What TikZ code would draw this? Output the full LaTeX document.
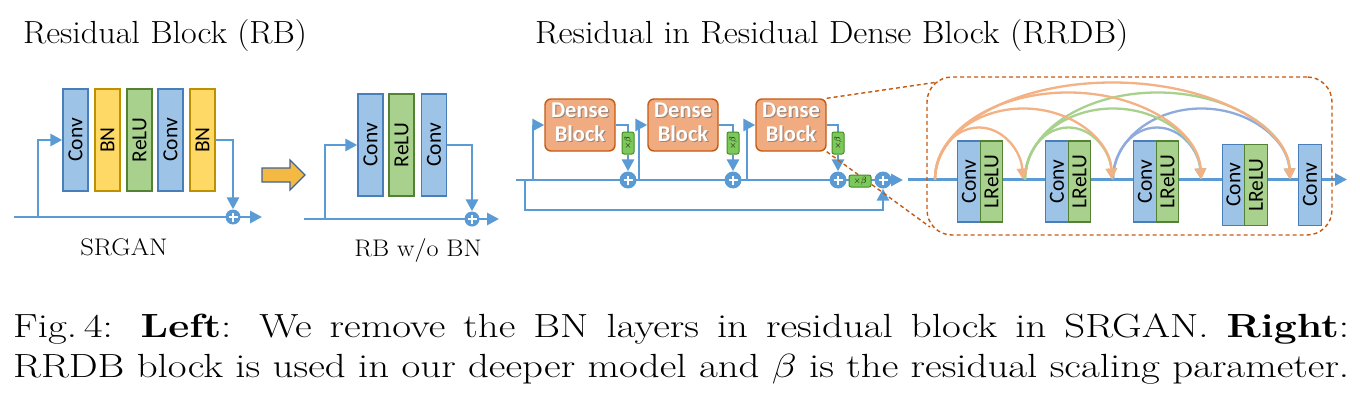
\RequirePackage{fix-cm}
\documentclass[tikz,border=0pt]{standalone}
\usepackage{graphicx}
\usepackage{fontspec}
\newfontfamily\carl{Carlito}
\usetikzlibrary{arrows.meta,backgrounds,calc}
\definecolor{convfill}{RGB}{157,195,230}
\definecolor{convdraw}{RGB}{74,126,187}
\definecolor{bnfill}{RGB}{255,217,102}
\definecolor{bndraw}{RGB}{191,144,0}
\definecolor{relufill}{RGB}{169,209,142}
\definecolor{reludraw}{RGB}{84,130,53}
\definecolor{linecol}{RGB}{91,155,213}
\definecolor{densefill}{RGB}{240,172,128}
\definecolor{densedraw}{RGB}{197,90,17}
\definecolor{dashcol}{RGB}{197,90,17}
\definecolor{betafill}{RGB}{125,200,90}
\definecolor{betadraw}{RGB}{70,140,40}
\definecolor{arrfill}{RGB}{244,185,66}
\definecolor{arrdraw}{RGB}{65,100,150}
\definecolor{arco}{RGB}{244,177,131}
\definecolor{arcg}{RGB}{169,209,142}
\definecolor{arcb}{RGB}{143,170,220}
\definecolor{shadowcol}{RGB}{120,80,60}
\newcommand\dbt{\begin{tabular}{@{}c@{}}Dense\\Block\end{tabular}}
\newcommand\dbtext{\rlap{\kern1.2pt\raisebox{-1.2pt}{\color{shadowcol!70}\dbt}}{\color{white}\dbt}}
\newcommand\capfont{\fontsize{33.5}{40}\selectfont}
\newcommand\captwo{RRDB block is used in our deeper model and $\beta$ is the residual scaling parameter.}
\newcommand\capone{Fig.\,4: \textbf{Left}: We remove the BN layers in residual block in SRGAN. \textbf{Right}:}
\newlength\ltwo
\newsavebox\capbox
% dense connection: colour, source, target, rise
\newcommand\denseArc[4]{\draw[darc,#1] let \p1=(#2), \p2=(#3), \n1={(\x2-\x1)/2} in
  (#2) .. controls +(0,-0.552*#4) and ($(\p1)!0.5!(\p2)+(-0.552*\n1,-#4)$)
  .. ($(\p1)!0.5!(\p2)+(0,-#4)$) .. controls +(0.552*\n1,0) and +(-2,-0.552*#4) .. (#3);}
\tikzset{
  ln/.style={draw=linecol,line width=2.8pt},
  tipb/.style={-{Triangle[length=12pt,width=12pt]}},
  lay/.style={draw,line width=1.4pt,inner sep=0pt,font=\carl\fontsize{21.5}{21.5}\selectfont},
  convbox/.style={lay,draw=convdraw,fill=convfill},
  bnbox/.style={lay,draw=bndraw,fill=bnfill},
  relubox/.style={lay,draw=reludraw,fill=relufill},
  tall/.style={minimum width=25pt,minimum height=102pt},
  short/.style={minimum width=22.5pt,minimum height=81pt},
  plus/.style={circle,fill=linecol,minimum size=#1,inner sep=0pt,
    path picture={\draw[white,line width=1.6pt]
      ($(path picture bounding box.center)+(-4.5,0)$) -- ++(9,0)
      ($(path picture bounding box.center)+(0,-4.5)$) -- ++(0,9);}},
  densebox/.style={draw=densedraw,fill=densefill,line width=1.4pt,rounded corners=6pt,
    minimum width=70pt,minimum height=52pt,inner sep=0pt,
    font=\carl\bfseries\fontsize{22.5}{24}\selectfont},
  betabox/.style={draw=betadraw,fill=betafill,line width=1pt,rounded corners=2pt,
    inner sep=0pt,font=\fontsize{9}{9}\selectfont},
  dsh/.style={draw=dashcol,line width=1.4pt,dash pattern=on 4pt off 3pt},
  ttl/.style={font=\fontsize{32}{32}\selectfont,inner sep=0pt},
  lbl/.style={font=\fontsize{24}{24}\selectfont,inner sep=0pt},
  capt/.style={font=\capfont,inner sep=0pt},
  darc/.style={line width=2.3pt,-{Triangle[length=11pt,width=11pt]}},
  bigarr/.style={fill=arrfill,draw=arrdraw,line width=1.3pt}
}
\begin{document}
\sbox\capbox{\capfont\captwo}%
\setlength\ltwo{\wd\capbox}%
\pgfmathsetmacro\sx{1336/\ltwo}%
\begin{tikzpicture}[x=1pt,y=-1pt]
\useasboundingbox (0,0) rectangle (1360,412);

% titles and caption
\node[ttl,anchor=base west] (t1) at (23,44) {\scalebox{1.065}[1]{Residual Block (RB)}};
\node[ttl,anchor=base west] (t2) at (535,44) {\scalebox{1.078}[1]{Residual in Residual Dense Block (RRDB)}};
\node[capt,anchor=base west] (cap1) at (13,337) {\scalebox{\sx}[1]{\hbox to \ltwo{\capone}}};
\node[capt,anchor=base west] (cap2) at (13,377) {\scalebox{\sx}[1]{\usebox\capbox}};

% ---------- SRGAN residual block ----------
\node[convbox,tall] (a1) at (75.5,140) {\rotatebox{90}{Conv}};
\node[bnbox,tall] (a2) at (107.5,140) {\rotatebox{90}{BN}};
\node[relubox,tall] (a3) at (139.5,140) {\rotatebox{90}{ReLU}};
\node[convbox,tall] (a4) at (170.5,140) {\rotatebox{90}{Conv}};
\node[bnbox,tall] (a5) at (202.5,140) {\rotatebox{90}{BN}};
\node[plus=15pt] (p1) at (233,217) {};
\coordinate (in1) at (14,217);
\coordinate (br1) at (38,217);
\coordinate (out1) at (262,217);
\node[lbl,anchor=base] (l1) at (124,255) {\scalebox{1.11}[1]{SRGAN}};

\draw[bigarr] (262,168) -- (290,168) -- (290,160) -- (305,175) -- (290,190) -- (290,182) -- (262,182) -- cycle;

% ---------- RB w/o BN ----------
\node[convbox,tall] (b1) at (370.5,145) {\rotatebox{90}{Conv}};
\node[relubox,tall] (b2) at (401.5,145) {\rotatebox{90}{ReLU}};
\node[convbox,tall] (b3) at (434,145) {\rotatebox{90}{Conv}};
\node[plus=15pt] (p2) at (472,219) {};
\coordinate (in2) at (304,219);
\coordinate (br2) at (325,219);
\coordinate (out2) at (499,219);
\node[lbl,anchor=base] (l2) at (418,256) {\scalebox{1.09}[1]{RB w/o BN}};

% ---------- RRDB ----------
\node[densebox] (db1) at (580,125) {\dbtext};
\node[densebox] (db2) at (683,125) {\dbtext};
\node[densebox] (db3) at (791,125) {\dbtext};
\node[betabox,minimum width=12pt,minimum height=22pt] (bt1) at (628,143) {\rotatebox{90}{$\times\beta$}};
\node[betabox,minimum width=12pt,minimum height=22pt] (bt2) at (733,143) {\rotatebox{90}{$\times\beta$}};
\node[betabox,minimum width=12pt,minimum height=22pt] (bt3) at (838,143) {\rotatebox{90}{$\times\beta$}};
\node[plus=17pt] (q1) at (628,180) {};
\node[plus=17pt] (q2) at (733,180) {};
\node[plus=17pt] (q3) at (838,180) {};
\node[betabox,minimum width=22pt,minimum height=12pt] (bh) at (860,181) {$\times\beta$};
\node[plus=17pt] (q4) at (883,180) {};
\coordinate (rin) at (516,180);
\coordinate (s0) at (525,180);
\coordinate (sk) at (525,210);
\coordinate (s1) at (533,180);
\coordinate (s2) at (639,180);
\coordinate (s3) at (747,180);
\coordinate (rout) at (903,180);

% zoomed dense block
\node[dsh,rounded corners=25pt,minimum width=405pt,minimum height=158pt] (zb) at (1129.5,156) {};
\coordinate (zt) at (938,82);
\coordinate (zbot) at (930,227);
\coordinate (rr0) at (908,179.5);
\coordinate (rr1) at (1347,179.5);
\node[convbox,short] (e1c) at (969,181.5) {\rotatebox{90}{Conv}};
\node[relubox,short] (e1l) at (991.5,181.5) {\rotatebox{90}{LReLU}};
\node[convbox,short] (e2c) at (1057,181.5) {\rotatebox{90}{Conv}};
\node[relubox,short] (e2l) at (1079.5,181.5) {\rotatebox{90}{LReLU}};
\node[convbox,short] (e3c) at (1145,181.5) {\rotatebox{90}{Conv}};
\node[relubox,short] (e3l) at (1167.5,181.5) {\rotatebox{90}{LReLU}};
\node[convbox,short] (e4c) at (1233.5,185) {\rotatebox{90}{Conv}};
\node[relubox,short] (e4l) at (1256,185) {\rotatebox{90}{LReLU}};
\node[convbox,short] (e5c) at (1310,185) {\rotatebox{90}{Conv}};
\coordinate (src0) at (935,179.5);
\coordinate (src1) at (1025,179.5);
\coordinate (src2) at (1113,179.5);
\coordinate (tg1) at (1023,179.5);
\coordinate (tg2) at (1112,179.5);
\coordinate (tg3) at (1201,179.5);
\coordinate (tg4) at (1290,179.5);

% dense connections
\denseArc{arcb}{src2}{tg3}{52}
\denseArc{arcb}{src2}{tg4}{71}
\denseArc{arcg}{src1}{tg2}{52}
\denseArc{arcg}{src1}{tg3}{71}
\denseArc{arcg}{src1}{tg4}{87}
\denseArc{arco}{src0}{tg1}{52}
\denseArc{arco}{src0}{tg2}{71}
\denseArc{arco}{src0}{tg3}{87}
\denseArc{arco}{src0}{tg4}{97}

\begin{pgfonlayer}{background}
  \fill[white] (0,0) rectangle (1360,412);
  % SRGAN RB
  \draw[ln,tipb] (in1) -- (out1);
  \draw[ln,tipb] (br1) |- (a1.west);
  \draw[ln,tipb] (a5.east) -| (p1.north);
  % RB w/o BN
  \draw[ln,tipb] (in2) -- (out2);
  \draw[ln,tipb] (br2) |- (b1.west);
  \draw[ln,tipb] (b3.east) -| (p2.north);
  % RRDB chain
  \draw[ln,tipb] (rin) -- (rout);
  \draw[ln,tipb] (s0) -- (sk) -| (q4.south);
  \draw[ln,tipb] (s1) |- (db1.west);
  \draw[ln,tipb] (s2) |- (db2.west);
  \draw[ln,tipb] (s3) |- (db3.west);
  \draw[ln] (db1.east) -| (bt1.north);
  \draw[ln] (db2.east) -| (bt2.north);
  \draw[ln] (db3.east) -| (bt3.north);
  \draw[ln,tipb] (bt1.south) -- (q1.north);
  \draw[ln,tipb] (bt2.south) -- (q2.north);
  \draw[ln,tipb] (bt3.south) -- (q3.north);
  % zoom lines
  \draw[dsh] (db3.north east) -- (zt);
  \draw[dsh] (db3.south east) -- (zbot);
  % inner main line
  \draw[ln,tipb] (rr0) -- (rr1);
\end{pgfonlayer}
\end{tikzpicture}
\end{document}
